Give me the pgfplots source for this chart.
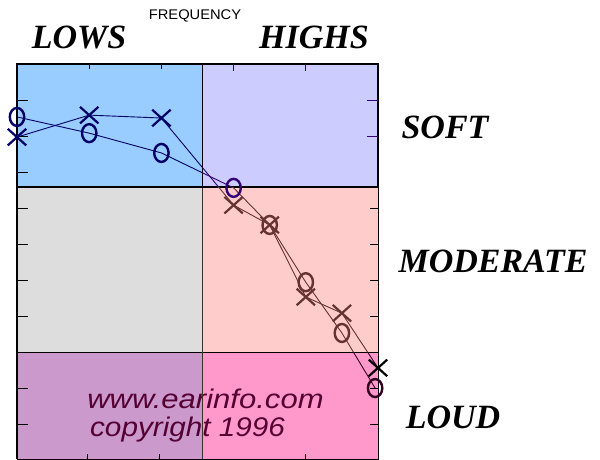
\documentclass[border=0pt]{standalone}
\usepackage{pgfplots}
\pgfplotsset{compat=1.18}
\usepackage{pgfplotstable}
\usepackage{fontspec}
\setmainfont{Liberation Serif}
\newfontfamily\sansf{Liberation Sans}
\definecolor{cTL}{HTML}{99CCFF}
\definecolor{cTR}{HTML}{CCCCFF}
\definecolor{cML}{HTML}{DDDDDD}
\definecolor{cMR}{HTML}{FFCCCC}
\definecolor{cBL}{HTML}{CC99CC}
\definecolor{cBR}{HTML}{FF99CC}
\definecolor{lNavy}{HTML}{000066}
\definecolor{lPurp}{HTML}{330077}
\definecolor{lBrown}{HTML}{663333}
\definecolor{lDark}{HTML}{330022}
\definecolor{wm}{HTML}{550033}
\pgfplotstableread{
x y
0 14.7
1 19.2
2 24.7
3 34.4
3.5 44.7
4 60.6
4.5 74.7
4.96 90
}\dataO
\pgfplotstableread{
x y
0 20.3
1 14.2
2 15
3 39.2
3.5 44.7
4 64.7
4.5 69.2
5 84.4
}\dataX
\begin{document}
\begin{tikzpicture}[x=1pt,y=1pt]
\useasboundingbox (0,0) rectangle (600,459);
\begin{axis}[at={(17pt,0pt)}, anchor=south west, scale only axis,
  width=361pt, height=395pt, xmin=0, xmax=5, ymin=0, ymax=109.7,
  y dir=reverse, clip=false, axis on top,
  axis line style={draw=none},
  xtick=\empty, ytick={10,20,...,100}, yticklabels={},
  tick align=inside, major tick length=11pt,
  ytick style={black, line width=0.8pt},
  ytick pos=left]
% regions
\fill[cTL] (axis cs:0,0) rectangle (axis cs:2.57,34.2);
\fill[cTR] (axis cs:2.57,0) rectangle (axis cs:5,34.2);
\fill[cML] (axis cs:0,34.2) rectangle (axis cs:2.57,80);
\fill[cMR] (axis cs:2.57,34.2) rectangle (axis cs:5,80);
\fill[cBL] (axis cs:0,80) rectangle (axis cs:2.57,109.7);
\fill[cBR] (axis cs:2.57,80) rectangle (axis cs:5,109.7);
% watermark
\node[anchor=base west, text=wm, font=\sansf\itshape\fontsize{27}{30}\selectfont, xscale=1.15, inner sep=0] at (axis cs:0.97,95.6) {www.earinfo.com};
\node[anchor=base west, text=wm, font=\sansf\itshape\fontsize{27}{30}\selectfont, xscale=1.1, inner sep=0] at (axis cs:1.01,103.4) {copyright 1996};
% borders
\draw[black, line width=0.8pt] (axis cs:0,34.2) rectangle (axis cs:5,80);
\draw[black, line width=0.8pt] (axis cs:0,80) rectangle (axis cs:5,109.7);
\draw[black!80!olive, line width=1.2pt] (axis cs:2.57,34.2) -- (axis cs:2.57,109.7);
\draw[black, line width=1.6pt] (axis cs:0,0) rectangle (axis cs:5,34.2);
\draw[black, line width=1.6pt] (axis cs:2.57,0) -- (axis cs:2.57,34.2);
\draw[black, line width=1.6pt] (axis cs:0,0) -- (axis cs:0,109.7);
% x ticks
\draw[black, line width=0.8pt] (axis cs:1,0) -- ++(0,-5pt);
\draw[black, line width=0.8pt] (axis cs:2,0) -- ++(0,-5pt);
\draw[lPurp, line width=0.8pt] (axis cs:3,0) -- ++(0,-7pt);
\draw[lPurp, line width=0.8pt] (axis cs:4,0) -- ++(0,-7pt);
\draw[black, line width=0.8pt] (axis cs:0.97,109.7) -- ++(0,5pt);
\draw[black, line width=0.8pt] (axis cs:1.97,109.7) -- ++(0,5pt);
\draw[black, line width=0.8pt] (axis cs:4,109.7) -- ++(0,5pt);
% right-side ticks
\draw[lPurp, line width=0.8pt] (axis cs:5,10) -- ++(-11pt,0);
\draw[lPurp, line width=0.8pt] (axis cs:5,20) -- ++(-11pt,0);
\draw[black, line width=0.8pt] (axis cs:5,40) -- ++(-8pt,0);
\draw[black, line width=0.8pt] (axis cs:5,50) -- ++(-8pt,0);
\draw[black, line width=0.8pt] (axis cs:5,60) -- ++(-8pt,0);
\draw[black, line width=0.8pt] (axis cs:5,70) -- ++(-8pt,0);
\draw[black, line width=0.8pt] (axis cs:5,90) -- ++(-8pt,0);
\draw[black, line width=0.8pt] (axis cs:5,100) -- ++(-8pt,0);
% lines clipped by region
\begin{scope}
\clip (axis cs:-0.2,-5) rectangle (axis cs:2.57,34.2);
\addplot[lNavy, line width=0.9pt, no marks] table {\dataO};
\addplot[lNavy, line width=0.9pt, no marks] table {\dataX};
\end{scope}
\begin{scope}
\clip (axis cs:2.57,-5) rectangle (axis cs:5.2,34.2);
\addplot[lPurp, line width=0.9pt, no marks] table {\dataO};
\addplot[lPurp, line width=0.9pt, no marks] table {\dataX};
\end{scope}
\begin{scope}
\clip (axis cs:0,34.2) rectangle (axis cs:5.2,80);
\addplot[lBrown, line width=0.9pt, no marks] table {\dataO};
\addplot[lBrown, line width=0.9pt, no marks] table {\dataX};
\end{scope}
\begin{scope}
\clip (axis cs:0,80) rectangle (axis cs:5.2,109.7);
\addplot[lDark, line width=0.9pt, no marks] table {\dataO};
\addplot[lDark, line width=0.9pt, no marks] table {\dataX};
\end{scope}
% markers
\addplot[only marks, lNavy, mark=o, mark size=7.2pt, mark options={yscale=1.25, line width=2.4pt}] coordinates {(0,14.7) (1,19.2) (2,24.7)};
\addplot[only marks, lPurp, mark=o, mark size=7.2pt, mark options={yscale=1.25, line width=2.4pt}] coordinates {(3,34.4)};
\addplot[only marks, lBrown, mark=o, mark size=7.2pt, mark options={yscale=1.25, line width=2.4pt}] coordinates {(3.5,44.7) (4,60.6) (4.5,74.7)};
\addplot[only marks, lDark, mark=o, mark size=7.2pt, mark options={yscale=1.25, line width=2.4pt}] coordinates {(4.96,90)};
\addplot[only marks, lNavy, mark=x, mark size=13pt, mark options={yscale=0.9, line width=2.2pt}] coordinates {(0,20.3) (1,14.2) (2,15)};
\addplot[only marks, lBrown, mark=x, mark size=13pt, mark options={yscale=0.9, line width=2.2pt}] coordinates {(3,39.2) (3.5,44.7) (4,64.7) (4.5,69.2)};
\addplot[only marks, black, mark=x, mark size=13pt, mark options={yscale=0.9, line width=2.2pt}] coordinates {(5,84.4)};
\end{axis}
% titles
\node[font=\bfseries\itshape\fontsize{34}{40}\selectfont, anchor=base, inner sep=0] at (79,410) {LOWS};
\node[font=\bfseries\itshape\fontsize{34}{40}\selectfont, anchor=base, inner sep=0] at (314,410) {HIGHS};
\node[font=\sansf\fontsize{14}{16}\selectfont, anchor=base, inner sep=0, xscale=1.05] at (195,439) {FREQUENCY};
\node[font=\bfseries\itshape\fontsize{34}{40}\selectfont, anchor=base, inner sep=0] at (445,321) {SOFT};
\node[font=\bfseries\itshape\fontsize{34}{40}\selectfont, anchor=base, inner sep=0] at (493,187) {MODERATE};
\node[font=\bfseries\itshape\fontsize{34}{40}\selectfont, anchor=base, inner sep=0] at (453,31) {LOUD};
\end{tikzpicture}
\end{document}
